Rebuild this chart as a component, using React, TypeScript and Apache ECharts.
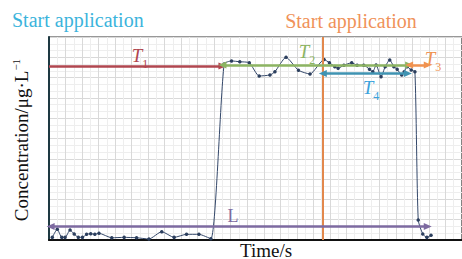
import React, { useEffect, useRef } from "react";
import * as echarts from "echarts";

// Measured series (time in arbitrary units 0-100, concentration 0-100)
const time = [0.8, 2.0, 3.1, 3.9, 5.1, 6.1, 7.1, 8.1, 9.1, 10.1, 11.1, 12.1, 15.2, 18.2, 21.2, 24.2, 27.3, 30.3, 33.3, 36.3, 39.2,
  42.4, 44.2, 46.2, 48.5, 50.9, 53.5, 54.7, 57.4, 60.4, 63.2, 66.6, 67.9, 69.2, 70.0, 71.4, 73.3, 74.6, 76.2, 77.6, 78.4, 79.2,
  80.4, 81.4, 82.5, 83.5, 84.3, 85.4, 86.0, 86.7, 87.7, 88.6, 89.4, 90.5, 91.5, 92.5];
const conc = [1.3, 5.3, 1.3, 1.3, 4.9, 3.0, 1.3, 1.3, 2.8, 3.1, 2.8, 3.3, 1.1, 1.3, 1.1, 0.5, 4.1, 1.3, 2.8, 2.8, 0.6,
  86.7, 88.2, 87.8, 87.3, 80.8, 81.3, 82.9, 90.0, 83.6, 81.8, 88.9, 87.3, 85.4, 84.6, 86.1, 87.3, 86.1, 86.1, 84.1, 82.9, 86.2,
  80.4, 85.4, 88.7, 85.4, 84.1, 81.3, 82.9, 85.4, 83.7, 82.9, 9.9, 3.0, 1.3, 2.3];

// Interval annotations
const arrowNames = ["T1", "T2", "T3", "T4", "L"];
const arrowStart = [0, 42.0, 87.2, 66.3, 0.4];
const arrowEnd = [42.0, 87.2, 91.7, 86.9, 91.7];
const arrowLevel = [85.7, 86.2, 86.2, 82.0, 6.6];
const arrowBothEnds = [false, true, true, true, true];
const applicationTime = 66.3;

const titleLeft = "Start application";
const titleRight = "Start application";
const xName = "Time/s";
const yName = "Concentration/μg·L";
const ySup = "−1";

const arrowColors = ["#b0464f", "#8cb462", "#f0924f", "#3f93b2", "#7d6aa0"];
const labelColors = ["#b0464f", "#8cb462", "#f0924f", "#3aa2dc", "#7d6aa0"];
const labelPos = [
  [140, 55],
  [307, 51],
  [433, 58],
  [371, 87],
  [233, 216],
];

const SERIF = "Liberation Serif";

function serifText(text: string, size: number, color: string) {
  return {
    text: `{a|${text}}`,
    fill: color,
    rich: { a: { fontFamily: SERIF, fontSize: size, fill: color, lineHeight: size + 2 } },
  };
}

export default function App() {
  const ref = useRef<HTMLDivElement>(null);
  useEffect(() => {
    if (!ref.current) return;
    const chart = echarts.init(ref.current, undefined, { renderer: "svg" });
    const data = time.map((t, i) => [t, conc[i]]);
    const markData: any[] = arrowNames.map((n, i) => [
      {
        coord: [arrowStart[i], arrowLevel[i]],
        symbol: arrowBothEnds[i] ? "triangle" : "none",
        symbolSize: [7, 8],
        lineStyle: { color: arrowColors[i], width: 2.5, type: "solid" },
      },
      {
        coord: [arrowEnd[i], arrowLevel[i]],
        symbol: "triangle",
        symbolSize: [7, 8],
      },
    ]);
    markData.unshift({
      xAxis: applicationTime,
      symbol: "none",
      lineStyle: { color: "#e2884c", width: 2, type: "solid" },
    });

    const labelGraphics = arrowNames.map((n, i) => {
      const isT = n.startsWith("T");
      return {
        type: "text",
        x: labelPos[i][0],
        y: labelPos[i][1],
        z: 10,
        style: isT
          ? {
              text: `{t|T}{s|${n.slice(1)}}`,
              align: "center",
              verticalAlign: "middle",
              fill: labelColors[i],
              fontFamily: SERIF,
              rich: {
                t: { fontFamily: SERIF, fontStyle: "italic", fontSize: 19, fill: labelColors[i], lineHeight: 20 },
                s: { fontFamily: SERIF, fontSize: 12, fill: labelColors[i], verticalAlign: "bottom", lineHeight: 12, padding: [0, 0, -5, 0] },
              },
            }
          : { ...serifText(n, 18, labelColors[i]), align: "center", verticalAlign: "middle" },
      };
    });

    chart.setOption({
      animation: false,
      grid: { left: 49, right: 0, top: 37, bottom: 19, show: true, borderColor: "#333", borderWidth: 1.2, backgroundColor: "transparent" },
      xAxis: {
        type: "value",
        min: 0,
        max: 100,
        interval: 4,
        axisLabel: { show: false },
        axisTick: { show: false },
        axisLine: { show: true, onZero: false, lineStyle: { color: "#111", width: 2 } },
        splitLine: { show: true, lineStyle: { color: "#d9d9d9", width: 1 } },
        minorTick: { show: false, splitNumber: 2 },
        minorSplitLine: { show: true, lineStyle: { color: "#eeeeee", width: 1 } },
      },
      yAxis: {
        type: "value",
        min: 0,
        max: 100,
        interval: 10,
        axisLabel: { show: false },
        axisTick: { show: false },
        axisLine: { show: true, onZero: false, lineStyle: { color: "#1e3942", width: 2 } },
        splitLine: { show: true, lineStyle: { color: "#d9d9d9", width: 1 } },
        minorTick: { show: false, splitNumber: 3 },
        minorSplitLine: { show: true, lineStyle: { color: "#eeeeee", width: 1 } },
      },
      series: [
        {
          type: "line",
          data,
          smooth: 0.2,
          symbol: "circle",
          symbolSize: 3.5,
          itemStyle: { color: "#2c3f5e" },
          lineStyle: { color: "#34486a", width: 1 },
          z: 3,
          markLine: {
            silent: true,
            symbol: ["none", "none"],
            label: { show: false },
            emphasis: { disabled: true },
            data: markData,
            z: 4,
          },
        },
      ],
      graphic: [
        {
          type: "text",
          x: 12,
          y: 20,
          style: { ...serifText(titleLeft, 20, "#3bb4dc"), verticalAlign: "middle" },
        },
        {
          type: "text",
          x: 351,
          y: 21,
          style: { ...serifText(titleRight, 20, "#f0925a"), align: "center", verticalAlign: "middle" },
        },
        {
          type: "text",
          x: 266,
          y: 250,
          style: { ...serifText(xName, 19, "#111"), align: "center", verticalAlign: "middle" },
        },
        {
          type: "text",
          x: 21,
          y: 140,
          rotation: Math.PI / 2,
          style: {
            text: `{a|${yName}}{b|${ySup}}`,
            align: "center",
            verticalAlign: "middle",
            fill: "#111",
            rich: {
              a: { fontFamily: SERIF, fontSize: 19, fill: "#111", lineHeight: 22 },
              b: { fontFamily: SERIF, fontSize: 11, fill: "#111", verticalAlign: "top", lineHeight: 22, padding: [0, 0, 8, 0] },
            },
          },
        },
        ...labelGraphics,
      ],
    });
    return () => chart.dispose();
  }, []);
  return <div ref={ref} style={{ width: 462, height: 259, position: "absolute", left: 0, top: 0 }} />;
}
